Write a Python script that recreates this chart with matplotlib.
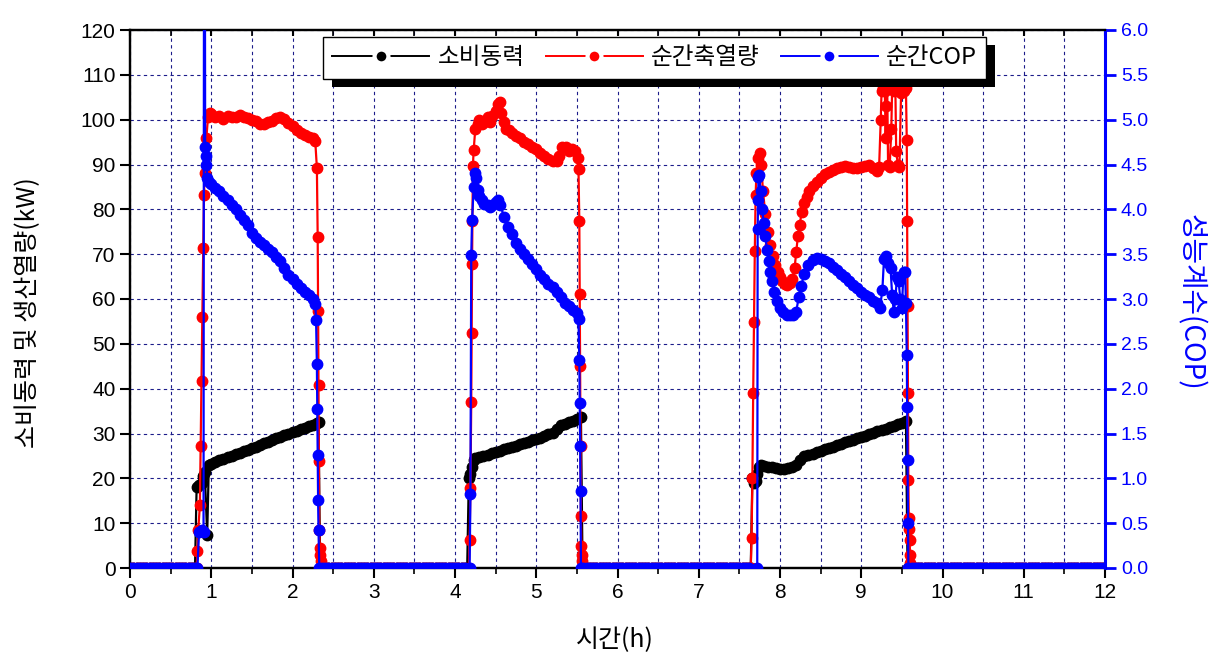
import numpy as np
import matplotlib
matplotlib.use("Agg")
import matplotlib.pyplot as plt
from matplotlib.lines import Line2D
from matplotlib.patches import Rectangle
from matplotlib.ticker import MultipleLocator

KR = ["Noto Sans CJK KR", "DejaVu Sans"]
NARROW = ["Liberation Sans Narrow", "Liberation Sans", "DejaVu Sans"]
ARIAL = ["Liberation Sans", "DejaVu Sans"]
GRID = "#1c1c8a"

# ---- data: idle spans (all series at zero) ----
idle_spans = [(0.0, 0.80), (2.36, 4.15), (5.58, 7.64), (9.62, 12.0)]

# ---- 소비동력 (kW) ----
pw_t1 = [0.80, 0.82, 0.85, 0.88, 0.90, 0.92, 0.95, 0.97, 1.00, 1.05, 1.10, 1.15, 1.20, 1.25, 1.30,
         1.35, 1.40, 1.45, 1.50, 1.55, 1.60, 1.65, 1.70, 1.75, 1.80, 1.85, 1.90, 1.95, 2.00, 2.05,
         2.10, 2.15, 2.20, 2.25, 2.30, 2.32, 2.34]
pw_v1 = [0.0, 18.0, 18.5, 19.0, 20.5, 21.5, 7.4, 23.0, 23.3, 23.6, 24.0, 24.3, 24.7, 25.0, 25.4,
         25.7, 26.1, 26.4, 26.8, 27.1, 27.5, 27.8, 28.2, 28.5, 28.9, 29.2, 29.6, 29.9, 30.3, 30.6,
         31.0, 31.3, 31.7, 32.0, 32.3, 32.5, 0.0]
pw_t2 = [4.15, 4.17, 4.19, 4.21, 4.23, 4.25, 4.30, 4.35, 4.40, 4.45, 4.50, 4.55, 4.60, 4.65, 4.70,
         4.75, 4.80, 4.85, 4.90, 4.95, 5.00, 5.05, 5.10, 5.15, 5.20, 5.25, 5.30, 5.35, 5.40, 5.45,
         5.50, 5.55, 5.57]
pw_v2 = [0.0, 20.0, 21.0, 22.5, 24.0, 24.5, 24.8, 25.0, 25.3, 25.6, 25.9, 26.2, 26.5, 26.8, 27.0,
         27.3, 27.6, 27.9, 28.2, 28.5, 28.8, 29.1, 29.4, 29.8, 30.2, 31.0, 31.8, 32.2, 32.5, 32.8,
         33.2, 33.6, 0.0]
pw_t3 = [7.64, 7.66, 7.68, 7.70, 7.72, 7.74, 7.76, 7.80, 7.85, 7.90, 7.95, 8.00, 8.05, 8.10, 8.15,
         8.20, 8.25, 8.30, 8.35, 8.40, 8.45, 8.50, 8.55, 8.60, 8.65, 8.70, 8.75, 8.80, 8.85, 8.90,
         8.95, 9.00, 9.05, 9.10, 9.15, 9.20, 9.25, 9.30, 9.35, 9.40, 9.45, 9.50, 9.55, 9.57]
pw_v3 = [0.0, 20.0, 19.0, 19.5, 21.0, 22.5, 23.0, 22.8, 22.6, 22.5, 22.2, 22.0, 22.1, 22.3, 22.6,
         23.0, 24.2, 24.9, 25.2, 25.5, 25.9, 26.2, 26.5, 26.8, 27.1, 27.4, 27.7, 28.0, 28.3, 28.6,
         28.9, 29.2, 29.5, 29.8, 30.1, 30.5, 30.8, 31.1, 31.4, 31.7, 32.1, 32.4, 32.8, 0.0]

# ---- 순간축열량 (kW) ----
hs_t1 = [0.82, 0.83, 0.84, 0.86, 0.87, 0.88, 0.89, 0.90, 0.91, 0.92, 0.94, 0.96, 0.98, 1.00, 1.05,
         1.10, 1.15, 1.20, 1.25, 1.30, 1.35, 1.40, 1.45, 1.50, 1.55, 1.60, 1.65, 1.70, 1.75, 1.80,
         1.85, 1.90, 1.95, 2.00, 2.05, 2.10, 2.15, 2.20, 2.25, 2.28, 2.30, 2.31, 2.315, 2.32, 2.325,
         2.33, 2.335, 2.34, 2.345, 2.35]
hs_v1 = [0.0, 3.8, 8.5, 14.0, 27.2, 41.8, 56.0, 71.3, 83.2, 88.0, 96.0, 100.5, 101.5, 101.2, 100.6,
         100.8, 100.2, 100.9, 100.5, 100.7, 101.0, 100.6, 100.3, 99.9, 99.6, 99.1, 99.0, 99.4, 99.6, 100.4,
         100.7, 100.2, 99.3, 98.6, 97.8, 97.0, 96.6, 96.2, 95.8, 95.2, 89.3, 73.9, 57.4, 40.9, 23.8,
         8.4, 4.4, 2.8, 1.6, 0.0]
hs_t2 = [4.17, 4.18, 4.19, 4.20, 4.205, 4.21, 4.215, 4.22, 4.23, 4.25, 4.28, 4.30, 4.33, 4.36, 4.40,
         4.43, 4.46, 4.50, 4.53, 4.55, 4.57, 4.60, 4.63, 4.66, 4.70, 4.75, 4.80, 4.85, 4.90, 4.95,
         5.00, 5.05, 5.10, 5.15, 5.20, 5.25, 5.28, 5.32, 5.36, 5.40, 5.44, 5.48, 5.51, 5.52, 5.53,
         5.535, 5.54, 5.545, 5.55, 5.555, 5.56, 5.565, 5.57]
hs_v2 = [0.0, 6.3, 17.8, 37.0, 52.4, 67.7, 77.5, 89.6, 93.3, 98.0, 99.0, 100.0, 99.0, 99.5, 100.5,
         99.5, 100.8, 102.0, 103.5, 104.0, 101.5, 99.5, 98.0, 97.6, 97.0, 96.3, 96.0, 95.0, 94.6, 94.0,
         93.5, 92.5, 91.8, 91.2, 90.8, 90.8, 92.0, 94.0, 94.0, 93.0, 93.5, 93.0, 91.5, 89.0, 77.3,
         61.2, 45.0, 27.2, 11.5, 5.0, 3.0, 1.5, 0.0]
hs_t3 = [7.64, 7.65, 7.66, 7.67, 7.68, 7.69, 7.70, 7.71, 7.73, 7.75, 7.77, 7.79, 7.82, 7.85, 7.88,
         7.91, 7.94, 7.97, 8.00, 8.03, 8.06, 8.09, 8.12, 8.15, 8.18, 8.20, 8.22, 8.24, 8.27, 8.30,
         8.33, 8.36, 8.40, 8.45, 8.50, 8.55, 8.60, 8.65, 8.70, 8.75, 8.80, 8.85, 8.90, 8.95, 9.00,
         9.05, 9.10, 9.15, 9.20, 9.22, 9.24, 9.25, 9.27, 9.29, 9.30, 9.31, 9.32, 9.33, 9.35, 9.37,
         9.38, 9.40, 9.42, 9.43, 9.45, 9.47, 9.49, 9.51, 9.53, 9.55, 9.56, 9.565, 9.57, 9.575, 9.58,
         9.585, 9.59, 9.595, 9.60, 9.605, 9.61]
hs_v3 = [0.0, 6.7, 20.0, 39.0, 54.9, 70.8, 83.3, 88.0, 91.5, 92.5, 90.0, 84.0, 79.0, 75.0, 72.0,
         69.5, 67.5, 66.0, 64.8, 64.0, 63.3, 63.2, 63.6, 64.5, 67.0, 70.5, 74.0, 76.5, 79.5, 81.5,
         82.8, 84.0, 85.2, 86.2, 87.0, 87.8, 88.4, 88.8, 89.2, 89.5, 89.6, 89.4, 89.3, 89.3, 89.4,
         89.6, 89.8, 89.3, 88.6, 89.5, 100.0, 106.5, 107.0, 106.5, 96.0, 103.0, 107.0, 90.0, 89.5, 98.0,
         107.0, 106.5, 107.0, 93.0, 90.0, 89.5, 106.0, 107.0, 106.5, 107.0, 95.5, 77.3, 58.5, 39.0, 19.7,
         11.2, 8.6, 6.3, 3.0, 1.1, 0.0]

# ---- 순간COP ----
cop_t1 = [0.83, 0.85, 0.88, 0.905, 0.915, 0.925, 0.93, 0.94, 0.95, 0.97, 1.00, 1.05, 1.10, 1.15, 1.20,
          1.25, 1.30, 1.35, 1.40, 1.45, 1.50, 1.55, 1.60, 1.65, 1.70, 1.75, 1.80, 1.85, 1.90, 1.95,
          2.00, 2.05, 2.10, 2.15, 2.20, 2.25, 2.28, 2.29, 2.30, 2.305, 2.31, 2.315, 2.32, 2.33]
cop_v1 = [0.0, 0.4, 0.42, 0.4, 12.0, 4.7, 4.6, 4.5, 4.35, 4.3, 4.28, 4.24, 4.2, 4.15, 4.1,
          4.05, 4.0, 3.94, 3.88, 3.82, 3.74, 3.68, 3.64, 3.6, 3.56, 3.52, 3.47, 3.42, 3.35, 3.27,
          3.22, 3.17, 3.12, 3.08, 3.04, 3.0, 2.94, 2.77, 2.27, 1.77, 1.26, 0.76, 0.42, 0.0]
cop_t2 = [4.18, 4.19, 4.20, 4.21, 4.23, 4.24, 4.26, 4.28, 4.30, 4.33, 4.36, 4.40, 4.43, 4.46, 4.50,
          4.53, 4.56, 4.60, 4.65, 4.70, 4.75, 4.80, 4.85, 4.90, 4.95, 5.00, 5.05, 5.10, 5.15, 5.20,
          5.25, 5.30, 5.35, 5.40, 5.45, 5.50, 5.52, 5.53, 5.535, 5.54, 5.545, 5.55]
cop_v2 = [0.0, 0.83, 3.49, 3.88, 4.25, 4.4, 4.35, 4.22, 4.15, 4.1, 4.06, 4.05, 4.03, 4.05, 4.08,
          4.1, 4.05, 3.92, 3.8, 3.72, 3.63, 3.56, 3.5, 3.45, 3.39, 3.34, 3.27, 3.22, 3.17, 3.13,
          3.08, 3.02, 2.96, 2.92, 2.88, 2.84, 2.78, 2.32, 1.84, 1.36, 0.86, 0.0]
cop_t3 = [7.72, 7.725, 7.73, 7.735, 7.745, 7.76, 7.78, 7.80, 7.82, 7.84, 7.86, 7.88, 7.90, 7.93, 7.96,
          8.00, 8.04, 8.08, 8.12, 8.16, 8.20, 8.23, 8.26, 8.30, 8.35, 8.40, 8.45, 8.50, 8.55, 8.60,
          8.65, 8.70, 8.75, 8.80, 8.85, 8.90, 8.95, 9.00, 9.05, 9.10, 9.15, 9.20, 9.23, 9.26, 9.28,
          9.30, 9.33, 9.36, 9.38, 9.40, 9.42, 9.44, 9.46, 9.48, 9.50, 9.52, 9.54, 9.55, 9.56, 9.565,
          9.57, 9.575, 9.58]
cop_v3 = [0.0, 3.78, 4.1, 4.36, 4.38, 4.2, 4.0, 3.85, 3.7, 3.55, 3.42, 3.3, 3.2, 3.08, 2.98,
          2.9, 2.85, 2.82, 2.82, 2.82, 2.86, 3.02, 3.15, 3.28, 3.38, 3.44, 3.46, 3.45, 3.42, 3.4,
          3.36, 3.32, 3.28, 3.24, 3.2, 3.16, 3.12, 3.08, 3.05, 3.02, 2.98, 2.95, 2.9, 3.1, 3.45,
          3.48, 3.4, 3.35, 3.05, 2.86, 3.0, 3.25, 3.2, 3.0, 2.9, 3.3, 3.3, 2.95, 2.38, 1.8,
          1.21, 0.5, 0.0]


def assemble(cycles):
    # idle zero segments plus the three running cycles, in time order
    t, v = [], []
    for a, b in idle_spans:
        ts = np.arange(a, b + 1e-9, 0.04)
        t.extend(ts)
        v.extend([0.0] * len(ts))
    for ct, cv in cycles:
        t.extend(ct)
        v.extend(cv)
    order = np.argsort(t, kind="stable")
    return np.array(t)[order], np.array(v)[order]


pw_t, pw_v = assemble([(pw_t1, pw_v1), (pw_t2, pw_v2), (pw_t3, pw_v3)])
hs_t, hs_v = assemble([(hs_t1, hs_v1), (hs_t2, hs_v2), (hs_t3, hs_v3)])
cop_t, cop_v = assemble([(cop_t1, cop_v1), (cop_t2, cop_v2), (cop_t3, cop_v3)])

fig = plt.figure(figsize=(12.22, 6.67), dpi=100)
ax = fig.add_axes([130 / 1222, 1 - 568 / 667, 975 / 1222, 538 / 667])
ax2 = ax.twinx()

ms, lw = 7.5, 1.6
ax.plot(pw_t, pw_v, "-o", color="black", ms=ms, lw=lw, zorder=3)
ax.plot(hs_t, hs_v, "-o", color="#ff0000", ms=ms, lw=lw, zorder=4)
ax2.plot(cop_t, cop_v, "-o", color="#0000ff", ms=ms, lw=lw, zorder=5)

ax.set_xlim(0, 12)
ax.set_ylim(0, 120)
ax2.set_ylim(0, 6.0)
ax.xaxis.set_major_locator(MultipleLocator(1))
ax.xaxis.set_minor_locator(MultipleLocator(0.5))
ax.yaxis.set_major_locator(MultipleLocator(10))
ax2.yaxis.set_major_locator(MultipleLocator(0.5))

ax.grid(True, which="both", axis="x", color=GRID, ls=(0, (3, 3)), lw=0.8)
ax.grid(True, which="major", axis="y", color=GRID, ls=(0, (3, 3)), lw=0.8)
ax.set_axisbelow(True)

for s in ["left", "bottom", "top"]:
    ax.spines[s].set_linewidth(1.6)
    ax2.spines[s].set_linewidth(1.6)
ax2.spines["right"].set_color("#0000ff")
ax2.spines["right"].set_linewidth(2.2)

ax.tick_params(axis="x", which="major", direction="out", length=7, width=1.5, top=True)
ax.tick_params(axis="x", which="minor", direction="out", length=4, width=1.2, top=True)
ax.tick_params(axis="y", which="major", direction="out", length=7, width=1.5)
ax2.tick_params(axis="y", direction="out", length=8, width=2, colors="#0000ff")

ax.set_xticks(range(0, 13))
ax.set_xticklabels([str(i) for i in range(0, 13)], family=NARROW, fontsize=15)
ax.set_yticks(range(0, 121, 10))
ax.set_yticklabels([str(i) for i in range(0, 121, 10)], family=NARROW, fontsize=15)
cop_ticks = [i * 0.5 for i in range(13)]
ax2.set_yticks(cop_ticks)
ax2.set_yticklabels([f"{c:.1f}" for c in cop_ticks], family=ARIAL, fontsize=14, color="#0000ff")
for tk in ax.xaxis.get_major_ticks() + ax.xaxis.get_minor_ticks():
    tk.tick2line.set_marker(3)  # top ticks point into the plot
    tk.tick2line.set_markersize(4)

ax.set_xlabel("시간(h)", family=KR, fontsize=18, va="center")
ax.xaxis.set_label_coords(0.497, -0.134)
ax.set_ylabel("소비동력 및 생산열량(kW)", family=KR, fontsize=18, va="center")
ax.yaxis.set_label_coords(-0.1046, 0.474)
ax2.set_ylabel("성능계수(COP)", family=KR, fontsize=20, color="#0000ff", rotation=270,
               va="center")
ax2.yaxis.set_label_coords(1.087, 0.494)

handles = [Line2D([], [], color=c, marker="o", ms=10, lw=1.4, markeredgecolor="white",
                  markeredgewidth=3) for c in ["black", "#ff0000", "#0000ff"]]
leg = ax2.legend(handles, ["소비동력", "순간축열량", "순간COP"], prop={"family": KR, "size": 17},
                 loc="upper left", bbox_to_anchor=(323 / 1222, 1 - 37 / 667),
                 bbox_transform=fig.transFigure, ncol=3, frameon=True, fancybox=False,
                 framealpha=1, borderpad=0.4, handlelength=4.1, columnspacing=0.9,
                 handletextpad=0.35, borderaxespad=0)
leg.get_frame().set_edgecolor("black")
leg.get_frame().set_facecolor("white")
leg.get_frame().set_linewidth(1.0)
leg.set_zorder(10)
fig.canvas.draw()
bb = leg.get_window_extent()
shadow = Rectangle((bb.x0 + 9, bb.y0 - 8), bb.width, bb.height, transform=None,
                   facecolor="black", edgecolor="none", zorder=9)
ax2.add_artist(shadow)

fig.savefig("out.png", dpi=100)
